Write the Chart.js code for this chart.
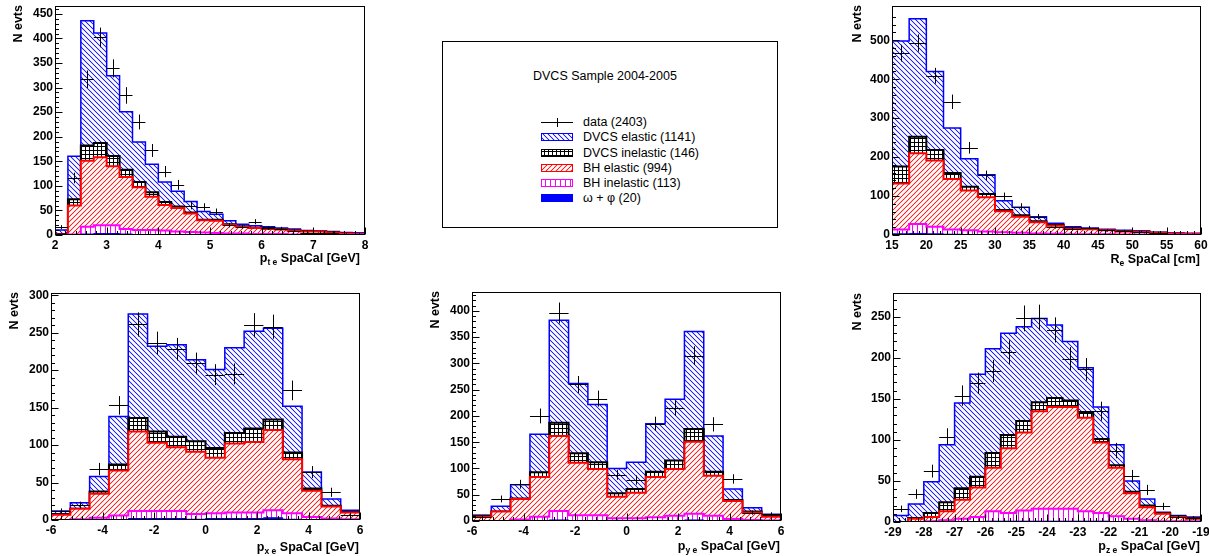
<!DOCTYPE html>
<html>
<head>
<meta charset="utf-8">
<script src="https://cdn.jsdelivr.net/npm/chart.js@4.4.1/dist/chart.umd.min.js"></script>
<style>
  html, body { margin: 0; padding: 0; background: #fff; }
  #page { position: relative; width: 1209px; height: 556px; overflow: hidden; background: #fff;
          font-family: "Liberation Sans", Arial, Helvetica, sans-serif; color: #000; }
  #page canvas { position: absolute; }
  .ytitle { position: absolute; width: 60px; text-align: right; font-weight: bold; font-size: 12.5px;
            line-height: 14px; white-space: nowrap; transform-origin: 0 0; transform: rotate(-90deg); }
  .xtitle { position: absolute; width: 220px; text-align: right; font-weight: bold; font-size: 12.5px;
            line-height: 14px; white-space: nowrap; }
  .xtitle sub { font-size: 8.5px; vertical-align: -3px; line-height: 0; }
  #legend { position: absolute; left: 442px; top: 41px; width: 336px; height: 187px; border: 1px solid #000;
            box-sizing: border-box; }
  #legend .ltitle { position: absolute; left: 90px; top: 27px; font-size: 12.5px; line-height: 14px; white-space: nowrap; }
  #legend .ltext { position: absolute; left: 140px; font-size: 12.5px; line-height: 14px; white-space: nowrap; }
  #legend canvas { position: absolute; }
</style>
</head>
<body>
<div id="page">
  <div id="legend"><div class="ltitle">DVCS Sample 2004-2005</div></div>
</div>
<script>
// ---------------- histogram contents (events per bin) ----------------
// transverse momentum of the scattered electron: 24 bins over [2, 8] GeV
const ptRange = [2, 8];
const ptData     = [16,116,317,402,339,284,230,172,129,102,60,57,47,20,17,27,14,13,9,5,5,5,2,2];
const ptOmegaPhi = [0,0,2,3,3,2,1,1,1,1,1,0,0,0,0,0,0,0,0,0,0,0,0,0];
const ptBHinel   = [0,1,15,17,17,10,9,9,8,6,5,5,4,3,3,2,2,2,1,1,1,1,1,1];
const ptBHel     = [1,59,134,138,120,106,87,68,52,48,38,25,25,18,14,12,10,9,8,6,6,4,2,1];
const ptDVCSinel = [1,13,31,29,21,15,11,9,6,3,2,1,2,1,1,1,2,1,1,1,0,1,1,1];
const ptDVCSel   = [8,87,254,224,163,118,81,57,41,31,22,17,11,7,4,4,3,2,2,1,1,1,1,1];
const ptXTicks = [2,3,4,5,6,7,8];
const ptYTicks = [0,50,100,150,200,250,300,350,400,450];

// radial impact position in the SpaCal: 18 bins over [15, 60] cm
const reRange = [15, 60];
const reData     = [467,493,409,342,224,153,99,73,47,21,15,19,12,10,8,6,3,2];
const reOmegaPhi = [3,4,3,2,1,1,1,1,0,0,0,0,0,0,0,0,0,0];
const reBHinel   = [11,24,18,12,11,8,6,5,4,3,2,2,2,1,1,1,1,1];
const reBHel     = [118,182,170,130,102,88,54,41,29,21,14,13,10,8,7,5,3,2];
const reDVCSinel = [44,42,27,15,10,8,3,4,2,2,2,0,1,1,1,0,0,0];
const reDVCSel   = [322,303,202,116,72,50,24,20,12,4,3,3,2,2,1,1,1,1];
const reXTicks = [15,20,25,30,35,40,45,50,55,60];
const reYTicks = [0,100,200,300,400,500];

// p_x of the scattered electron: 16 bins over [-6, 6] GeV
const pxRange = [-6, 6];
const pxData     = [12,20,68,153,261,236,228,209,194,195,260,258,173,64,37,7];
const pxOmegaPhi = [0,0,0,0,2,2,2,1,2,2,2,3,1,0,0,0];
const pxBHinel   = [0,1,3,6,10,10,10,7,7,8,8,10,8,4,2,1];
const pxBHel     = [7,14,32,60,106,91,85,83,74,92,94,107,72,35,16,9];
const pxDVCSinel = [1,0,3,8,18,15,14,14,13,14,18,14,9,3,1,1];
const pxDVCSel   = [4,8,20,64,139,114,123,109,105,114,130,122,62,22,9,2];
const pxXTicks = [-6,-4,-2,0,2,4,6];
const pxYTicks = [0,50,100,150,200,250,300];

// p_y of the scattered electron: 16 bins over [-6, 6] GeV
const pyRange = [-6, 6];
const pyData     = [7,42,70,200,396,260,233,88,78,185,215,315,184,80,16,13];
const pyOmegaPhi = [0,0,0,1,2,1,1,1,0,1,1,2,1,0,0,0];
const pyBHinel   = [0,0,3,7,17,10,10,4,5,6,9,12,9,4,2,1];
const pyBHel     = [8,18,39,76,143,100,88,41,49,77,89,137,76,34,14,7];
const pyDVCSinel = [2,0,1,9,25,18,13,7,7,10,16,24,8,2,2,2];
const pyDVCSel   = [1,10,26,72,195,133,110,47,51,91,117,186,68,21,7,3];
const pyXTicks = [-6,-4,-2,0,2,4,6];
const pyYTicks = [0,50,100,150,200,250,300,350,400];

// p_z of the scattered electron: 20 bins over [-29, -19] GeV
const pzRange = [-29, -19];
const pzData     = [16,34,62,104,154,169,184,207,248,249,234,199,186,135,87,56,39,19,6,5];
const pzOmegaPhi = [0,0,0,0,0,0,1,1,1,1,1,1,1,1,0,0,0,0,0,0];
const pzBHinel   = [0,0,1,2,4,6,12,10,13,15,15,15,12,10,7,4,2,1,1,1];
const pzBHel     = [0,4,5,11,23,36,53,79,95,119,124,124,114,86,59,31,16,9,5,3];
const pzDVCSinel = [0,1,5,11,14,13,18,16,14,11,11,8,7,4,3,2,2,1,1,1];
const pzDVCSel   = [8,17,38,70,104,125,127,124,115,102,89,72,54,39,25,13,8,1,1,1];
const pzXTicks = [-29,-28,-27,-26,-25,-24,-23,-22,-21,-20,-19];
const pzYTicks = [0,50,100,150,200,250];

// legend entries
const legendLabels = ['data (2403)', 'DVCS elastic (1141)', 'DVCS inelastic (146)',
                      'BH elastic (994)', 'BH inelastic (113)', '\u03c9 + \u03c6 (20)'];

// ---------------- styling ----------------
const FONT = '"Liberation Sans", Arial, Helvetica, sans-serif';
const ML = 50, MT = 20, MR = 20, MB = 30;   // room around each frame for labels

// fill styles of the stacked components, bottom to top
const layerStyles = [
  { label: 'omega+phi',      line: '#0000ff', kind: 'solid', rgb: [0, 0, 255],   lw: 1 },
  { label: 'BH inelastic',   line: '#ff00ff', kind: 'vert',  rgb: [255, 0, 255], lw: 2 },
  { label: 'BH elastic',     line: '#ff0000', kind: 'fwd',   rgb: [255, 20, 20], lw: 2 },
  { label: 'DVCS inelastic', line: '#000000', kind: 'grid',  rgb: [0, 0, 0],     lw: 2 },
  { label: 'DVCS elastic',   line: '#0000ff', kind: 'back',  rgb: [20, 20, 255], lw: 1.5 }
];

// hatch tile built pixel by pixel, turned into a pattern for the given context
function makeFill(ctx, style) {
  if (style.kind === 'solid') return style.line;
  const s = { grid: 4, vert: 5, back: 5, fwd: 5 }[style.kind];
  const c = document.createElement('canvas');
  c.width = s; c.height = s;
  const g = c.getContext('2d');
  const img = g.createImageData(s, s);
  for (let yy = 0; yy < s; yy++) {
    for (let xx = 0; xx < s; xx++) {
      let a = 0;
      if (style.kind === 'back') {
        const d = ((xx - yy) % s + s) % s;
        a = d === 0 ? 0.95 : (d === 1 || d === s - 1) ? 0.18 : 0;
      } else if (style.kind === 'fwd') {
        const d = (xx + yy + 1) % s;
        a = d === 0 ? 0.95 : (d === 1 || d === s - 1) ? 0.18 : 0;
      } else if (style.kind === 'grid') {
        a = (xx === 0 || yy === 0) ? 1 : 0;
      } else {
        a = xx === 0 ? 1 : 0;
      }
      const i = (yy * s + xx) * 4;
      img.data[i]     = Math.round(255 + (style.rgb[0] - 255) * a);
      img.data[i + 1] = Math.round(255 + (style.rgb[1] - 255) * a);
      img.data[i + 2] = Math.round(255 + (style.rgb[2] - 255) * a);
      img.data[i + 3] = 255;
    }
  }
  g.putImageData(img, 0, 0);
  return ctx.createPattern(c, 'repeat');
}

function stepPoints(values, range) {
  const w = (range[1] - range[0]) / values.length;
  const pts = values.map((v, i) => ({ x: range[0] + i * w, y: v }));
  pts.push({ x: range[1], y: values[values.length - 1] });
  return pts;
}
function centerPoints(values, range) {
  const w = (range[1] - range[0]) / values.length;
  return values.map((v, i) => ({ x: range[0] + (i + 0.5) * w, y: v }));
}

// frame, inward tick marks and data crosses with Poisson errors
const rootFrame = {
  id: 'rootFrame',
  afterDatasetsDraw(chart) {
    const { ctx, scales: { x, y } } = chart;
    chart.data.datasets.forEach((ds, i) => {
      if (!ds.crossWidth) return;
      const meta = chart.getDatasetMeta(i);
      ctx.save();
      ctx.strokeStyle = '#000';
      ctx.lineWidth = 1;
      ctx.beginPath();
      meta.data.forEach((pt, j) => {
        const v = ds.data[j].y, e = Math.sqrt(v), cx = ds.data[j].x;
        const x0 = x.getPixelForValue(cx - ds.crossWidth / 2);
        const x1 = x.getPixelForValue(cx + ds.crossWidth / 2);
        const y0 = y.getPixelForValue(v - e), y1 = y.getPixelForValue(v + e);
        const px = Math.round(pt.x) + 0.5, py = Math.round(pt.y) + 0.5;
        ctx.moveTo(x0, py); ctx.lineTo(x1, py);
        ctx.moveTo(px, y0); ctx.lineTo(px, y1);
      });
      ctx.stroke();
      ctx.restore();
    });
  },
  afterDraw(chart, args, opts) {
    const { ctx, chartArea: a, scales: { x, y } } = chart;
    const L = Math.round(a.left) + 0.5, T = Math.round(a.top) + 0.5;
    const R = Math.round(a.right) - 0.5, B = Math.round(a.bottom) - 0.5;
    ctx.save();
    ctx.strokeStyle = '#000';
    ctx.lineWidth = 1;
    ctx.strokeRect(L, T, R - L, B - T);
    ctx.beginPath();
    const mark = (scale, v, len) => {
      const p = Math.round(scale.getPixelForValue(v)) + 0.5;
      if (scale.axis === 'x') { ctx.moveTo(p, B); ctx.lineTo(p, B - len); }
      else { ctx.moveTo(L, p); ctx.lineTo(L + len, p); }
    };
    const minor = (scale, step) => {
      const n = Math.round((scale.max - scale.min) / step);
      for (let k = 1; k < n; k++) mark(scale, scale.min + k * step, 3.5);
    };
    x.ticks.forEach(t => mark(x, t.value, 7));
    y.ticks.forEach(t => mark(y, t.value, 7));
    minor(x, opts.xMinor);
    minor(y, opts.yMinor);
    ctx.stroke();
    ctx.restore();
  }
};

const panels = [
  { rect: [55, 6, 365, 235], range: ptRange, data: ptData, yMax: 466, xMinor: 0.2, yMinor: 10,
    series: [ptOmegaPhi, ptBHinel, ptBHel, ptDVCSinel, ptDVCSel], xTicks: ptXTicks, yTicks: ptYTicks,
    xTitle: ['p', 't e', ' SpaCal [GeV]'], xTitlePos: [360, 262], yTitlePos: [11, 5] },
  { rect: [892, 6, 1201, 235], range: reRange, data: reData, yMax: 588, xMinor: 1, yMinor: 20,
    series: [reOmegaPhi, reBHinel, reBHel, reDVCSinel, reDVCSel], xTicks: reXTicks, yTicks: reYTicks,
    xTitle: ['R', 'e', ' SpaCal [cm]'], xTitlePos: [1200, 263], yTitlePos: [850, 5] },
  { rect: [51, 293, 360, 520], range: pxRange, data: pxData, yMax: 303, xMinor: 0.4, yMinor: 10,
    series: [pxOmegaPhi, pxBHinel, pxBHel, pxDVCSinel, pxDVCSel], xTicks: pxXTicks, yTicks: pxYTicks,
    xTitle: ['p', 'x e', ' SpaCal [GeV]'], xTitlePos: [359, 551], yTitlePos: [7, 292] },
  { rect: [472, 292, 781, 521], range: pyRange, data: pyData, yMax: 436, xMinor: 0.4, yMinor: 10,
    series: [pyOmegaPhi, pyBHinel, pyBHel, pyDVCSinel, pyDVCSel], xTicks: pyXTicks, yTicks: pyYTicks,
    xTitle: ['p', 'y e', ' SpaCal [GeV]'], xTitlePos: [780, 550], yTitlePos: [428, 291] },
  { rect: [893, 293, 1201, 522], range: pzRange, data: pzData, yMax: 279, xMinor: 0.2, yMinor: 10,
    series: [pzOmegaPhi, pzBHinel, pzBHel, pzDVCSinel, pzDVCSel], xTicks: pzXTicks, yTicks: pzYTicks,
    xTitle: ['p', 'z e', ' SpaCal [GeV]'], xTitlePos: [1200, 550], yTitlePos: [850, 293] }
];

const page = document.getElementById('page');
const tickFont = { family: FONT, size: 12, weight: 'bold' };

panels.forEach(p => {
  const [l, t, r, b] = p.rect;
  const cv = document.createElement('canvas');
  cv.width = r - l + ML + MR;
  cv.height = b - t + MT + MB;
  cv.style.left = (l - ML) + 'px';
  cv.style.top = (t - MT) + 'px';
  cv.style.width = cv.width + 'px';
  cv.style.height = cv.height + 'px';
  page.appendChild(cv);
  const ctx = cv.getContext('2d');

  const binW = (p.range[1] - p.range[0]) / p.data.length;
  const datasets = p.series.map((vals, k) => ({
    label: layerStyles[k].label,
    data: stepPoints(vals, p.range),
    stepped: true,
    borderColor: layerStyles[k].line,
    borderWidth: layerStyles[k].lw,
    backgroundColor: makeFill(ctx, layerStyles[k]),
    fill: k === 0 ? 'origin' : '-1',
    pointRadius: 0,
    order: k + 1
  }));
  datasets.push({
    label: 'data',
    data: centerPoints(p.data, p.range),
    showLine: false,
    pointRadius: 0,
    fill: false,
    stack: 'obs',
    order: 0,
    crossWidth: binW
  });

  new Chart(ctx, {
    type: 'line',
    data: { datasets },
    options: {
      responsive: false,
      animation: false,
      devicePixelRatio: 1,
      layout: { padding: { left: 0, top: MT, right: MR, bottom: 0 } },
      plugins: {
        legend: { display: false },
        tooltip: { enabled: false },
        rootFrame: { xMinor: p.xMinor, yMinor: p.yMinor }
      },
      elements: { line: { tension: 0 }, point: { radius: 0 } },
      scales: {
        x: {
          type: 'linear', min: p.range[0], max: p.range[1],
          grid: { display: false, drawTicks: false },
          border: { display: false },
          afterBuildTicks: s => { s.ticks = p.xTicks.map(v => ({ value: v })); },
          afterFit: s => { s.height = MB; },
          ticks: { autoSkip: false, maxRotation: 0, padding: 3, color: '#000', font: tickFont,
                   callback: v => String(v) }
        },
        y: {
          type: 'linear', min: 0, max: p.yMax, stacked: true,
          grid: { display: false, drawTicks: false },
          border: { display: false },
          afterBuildTicks: s => { s.ticks = p.yTicks.map(v => ({ value: v })); },
          afterFit: s => { s.width = ML; },
          ticks: { autoSkip: false, padding: 2, color: '#000', font: tickFont,
                   callback: v => String(v) }
        }
      }
    },
    plugins: [rootFrame]
  });

  // axis titles
  const yt = document.createElement('div');
  yt.className = 'ytitle';
  yt.textContent = 'N evts';
  yt.style.left = p.yTitlePos[0] + 'px';
  yt.style.top = (p.yTitlePos[1] + 60) + 'px';
  page.appendChild(yt);

  const xt = document.createElement('div');
  xt.className = 'xtitle';
  xt.innerHTML = p.xTitle[0] + '<sub>' + p.xTitle[1] + '</sub>' + p.xTitle[2];
  xt.style.left = (p.xTitlePos[0] - 220) + 'px';
  xt.style.top = (p.xTitlePos[1] - 11) + 'px';
  page.appendChild(xt);
});

// ---------------- legend box ----------------
const legend = document.getElementById('legend');
const swatchStyles = [null, layerStyles[4], layerStyles[3], layerStyles[2], layerStyles[1], layerStyles[0]];
legendLabels.forEach((txt, k) => {
  const cy = 80 + 15.25 * k;          // row centre inside the box
  const sw = document.createElement('canvas');
  sw.width = 34; sw.height = 12;
  sw.style.left = '97px';
  sw.style.top = (cy - 6) + 'px';
  const g = sw.getContext('2d');
  if (k === 0) {
    g.strokeStyle = '#000'; g.lineWidth = 1;
    g.beginPath();
    g.moveTo(1, 6.5); g.lineTo(33, 6.5);
    g.moveTo(17.5, 2); g.lineTo(17.5, 11);
    g.stroke();
  } else {
    const st = swatchStyles[k];
    g.fillStyle = makeFill(g, st);
    g.fillRect(1, 2, 32, 8);
    g.strokeStyle = st.line; g.lineWidth = 1;
    g.strokeRect(1.5, 2.5, 31, 7);
  }
  legend.appendChild(sw);
  const lt = document.createElement('div');
  lt.className = 'ltext';
  lt.textContent = txt;
  lt.style.top = (cy - 7) + 'px';
  legend.appendChild(lt);
});
</script>
</body>
</html>
